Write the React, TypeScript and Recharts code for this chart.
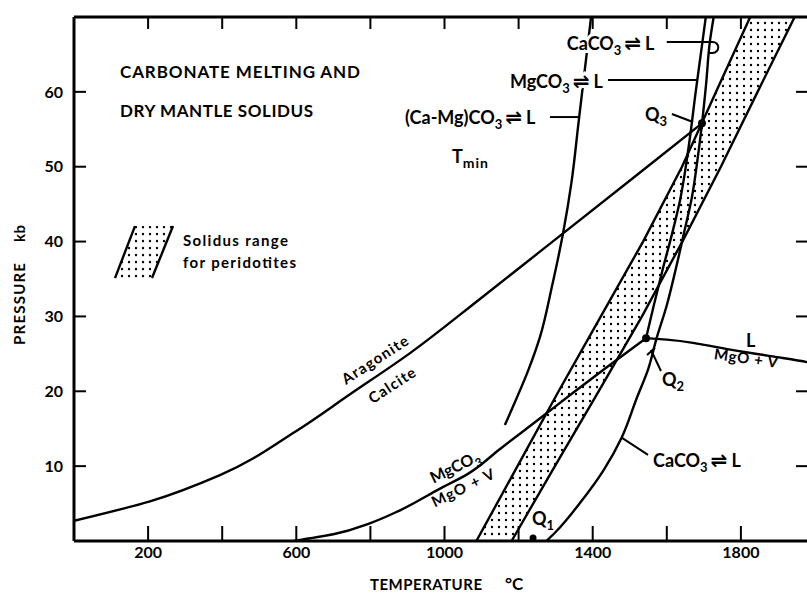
import React from 'react'
import { ComposedChart, Area, Line, XAxis, YAxis, ReferenceDot } from 'recharts'

// values: T in °C, P in kb

const tempTicks = [200, 400, 600, 800, 1000, 1200, 1400, 1600, 1800]
const tempLabels = [200, 600, 1000, 1400, 1800]
const pressureTicks = [10, 20, 30, 40, 50, 60]

// solidus range for peridotites: left / right edge at each pressure
const solidusBand = [
  { P: 0, low: 1086, high: 1181 },
  { P: 10, low: 1197, high: 1298 },
  { P: 20, low: 1308, high: 1416 },
  { P: 30, low: 1422, high: 1533 },
  { P: 40, low: 1536, high: 1642 },
  { P: 50, low: 1641, high: 1746 },
  { P: 60, low: 1733, high: 1845 },
  { P: 71.4, low: 1838, high: 1959 },
]

const aragoniteCalcite = [
  { T: 0, P: 2.7 }, { T: 205, P: 5.3 }, { T: 394, P: 8.8 }, { T: 597, P: 14.6 },
  { T: 745, P: 19.6 }, { T: 907, P: 25.1 }, { T: 1100, P: 32.5 }, { T: 1320, P: 41.1 },
  { T: 1509, P: 48.5 }, { T: 1695, P: 55.8 },
]

const magnesiteDecarb = [
  { T: 592, P: 0 }, { T: 700, P: 0.9 }, { T: 800, P: 2.4 }, { T: 880, P: 4.1 },
  { T: 988, P: 7.0 }, { T: 1061, P: 8.9 }, { T: 1150, P: 12.3 }, { T: 1266, P: 16.7 },
  { T: 1347, P: 19.8 }, { T: 1438, P: 23.2 }, { T: 1544, P: 27.1 },
]

const liquidPericlase = [
  { T: 2000, P: 23.6 }, { T: 1978, P: 23.9 }, { T: 1880, P: 24.7 }, { T: 1779, P: 25.5 },
  { T: 1690, P: 26.3 }, { T: 1600, P: 26.9 }, { T: 1544, P: 27.1 },
]

const calciteMelting = [
  { T: 1275, P: 0 }, { T: 1300, P: 1.2 }, { T: 1366, P: 5.1 }, { T: 1430, P: 9.5 },
  { T: 1479, P: 13.9 }, { T: 1519, P: 19.1 }, { T: 1550, P: 23 }, { T: 1572, P: 27 },
  { T: 1600, P: 31.5 }, { T: 1625, P: 36.5 }, { T: 1648, P: 41.5 }, { T: 1668, P: 46 },
  { T: 1683, P: 51 }, { T: 1695, P: 55.8 }, { T: 1706, P: 61 }, { T: 1716, P: 66.6 },
  { T: 1730, P: 71 },
]

const magnesiteMelting = [
  { T: 1544, P: 27.1 }, { T: 1565, P: 31.5 }, { T: 1590, P: 36.5 }, { T: 1614, P: 41 },
  { T: 1636, P: 45.6 }, { T: 1660, P: 53 }, { T: 1678, P: 60 }, { T: 1693, P: 65.5 },
  { T: 1708, P: 71 },
]

const dolomiteMinimum = [
  { T: 1163, P: 15.5 }, { T: 1194, P: 19 }, { T: 1226, P: 22.8 }, { T: 1258, P: 27.3 },
  { T: 1290, P: 34 }, { T: 1320, P: 41.1 }, { T: 1343, P: 48 }, { T: 1362, P: 56 },
  { T: 1380, P: 63.5 }, { T: 1398, P: 71 },
]

const invariantPoints = [
  { name: 'Q1', T: 1239, P: 0.4 },
  { name: 'Q2', T: 1544, P: 27.1 },
  { name: 'Q3', T: 1695, P: 55.8 },
]

const FONT = "Lato, 'DejaVu Sans', sans-serif"
const txt = { fontFamily: FONT, fontSize: 16, fontWeight: 700, fill: '#000' }
const big = { ...txt, fontSize: 18 }
const halo = { ...big, stroke: '#fff', strokeWidth: 6, paintOrder: 'stroke' } as any

const note = (key: string, T: number, P: number, node: React.ReactNode) => (
  <ReferenceDot
    key={key}
    x={T}
    y={P}
    r={1}
    ifOverflow="visible"
    shape={(p: any) => <g transform={`translate(${p.cx},${p.cy})`}>{node}</g>}
  />
)

const sub = (s: string, size = 13) => (
  <tspan dy={5} fontSize={size}>{s}</tspan>
)

// "⇌ L" after a subscript
const toLiquid = () => (
  <tspan dy={-5}>
    <tspan dx={3} fontFamily="'DejaVu Sans'" fontSize={20}>{'\u21CC'}</tspan>
    <tspan dx={4}>L</tspan>
  </tspan>
)

const lineProps = {
  type: 'monotone' as const,
  dataKey: 'T',
  stroke: '#000',
  strokeWidth: 2.4,
  dot: false,
  activeDot: false,
  isAnimationActive: false,
}

export default function App() {
  return (
    <div style={{ position: 'fixed', left: 0, top: 0, width: 807, height: 593, overflow: 'hidden', background: '#fff' }}>
      <ComposedChart
        width={840}
        height={593}
        layout="vertical"
        data={solidusBand}
        margin={{ top: 0, right: 0, bottom: 0, left: 0 }}
      >
        <defs>
          <pattern id="dots" width="7" height="7" patternUnits="userSpaceOnUse">
            <circle cx="2" cy="2" r="1.2" fill="#000" />
          </pattern>
        </defs>
        <XAxis
          xAxisId={0}
          type="number"
          domain={[0, 2000]}
          allowDataOverflow
          ticks={tempTicks}
          interval={0}
          tickFormatter={(v: number) => (tempLabels.includes(v) ? String(v) : '')}
          tickSize={-15}
          tickMargin={21}
          height={52}
          axisLine={{ stroke: '#000', strokeWidth: 3 }}
          tickLine={{ stroke: '#000', strokeWidth: 2 }}
          tick={txt}
          label={{
            content: ({ viewBox }: any) => (
              <g>
                <text x={viewBox.x + 296} y={viewBox.y + 49} {...txt} fontSize={15} textLength={112}>TEMPERATURE</text>
                <text x={viewBox.x + 431} y={viewBox.y + 49} {...txt} fontSize={17}>°C</text>
              </g>
            ),
          }}
        />
        <XAxis
          xAxisId="top"
          orientation="top"
          type="number"
          domain={[0, 2000]}
          allowDataOverflow
          ticks={tempTicks}
          interval={0}
          tickFormatter={() => ''}
          tickSize={-12}
          height={17}
          axisLine={{ stroke: '#000', strokeWidth: 3 }}
          tickLine={{ stroke: '#000', strokeWidth: 2 }}
        />
        <YAxis
          yAxisId={0}
          type="number"
          dataKey="P"
          domain={[0, 70]}
          allowDataOverflow
          reversed
          ticks={pressureTicks}
          interval={0}
          tickSize={-12}
          tickMargin={23}
          width={74}
          axisLine={{ stroke: '#000', strokeWidth: 3 }}
          tickLine={{ stroke: '#000', strokeWidth: 2 }}
          tick={txt}
          label={{
            content: ({ viewBox }: any) => (
              <g transform={`translate(${viewBox.x + 25},${viewBox.y + 328}) rotate(-90)`}>
                <text x={0} y={0} {...txt} fontSize={15} textLength={82}>PRESSURE</text>
                <text x={103} y={0} {...txt} fontSize={15} textLength={17}>kb</text>
              </g>
            ),
          }}
        />
        <YAxis
          yAxisId="right"
          orientation="right"
          type="number"
          dataKey="P"
          domain={[0, 70]}
          allowDataOverflow
          reversed
          ticks={pressureTicks}
          interval={0}
          tickSize={-19}
          tickFormatter={() => ''}
          width={25}
          axisLine={{ stroke: '#000', strokeWidth: 3 }}
          tickLine={{ stroke: '#000', strokeWidth: 2 }}
        />

        <Area
          type="linear"
          dataKey={(d: any) => [d.low, d.high]}
          stroke="#000"
          strokeWidth={2.4}
          fill="url(#dots)"
          fillOpacity={1}
          dot={false}
          activeDot={false}
          isAnimationActive={false}
        />

        <Line data={aragoniteCalcite} {...lineProps} />
        <Line data={magnesiteDecarb} {...lineProps} />
        <Line data={liquidPericlase} {...lineProps} />
        <Line data={calciteMelting} {...lineProps} />
        <Line data={magnesiteMelting} {...lineProps} />
        <Line data={dolomiteMinimum} {...lineProps} />

        {invariantPoints.map((q) => (
          <ReferenceDot key={q.name} x={q.T} y={q.P} r={q.name === 'Q1' ? 3.5 : 4} fill="#000" stroke="none" ifOverflow="visible" />
        ))}

        {note('t1', 124.2, 61.85, <text {...txt} fontSize={17} textLength={240}>CARBONATE MELTING AND</text>)}
        {note('t2', 124.2, 56.6, <text {...txt} fontSize={17} textLength={193}>DRY MANTLE SOLIDUS</text>)}
        {note('legend', 294.2, 39.4, (
          <g>
            <polygon points="-68,32 -48,-20 -10,-20 -31,32" fill="url(#dots)" stroke="none" />
            <line x1={-68} y1={32} x2={-48} y2={-20} stroke="#000" strokeWidth={2.4} />
            <line x1={-31} y1={32} x2={-10} y2={-20} stroke="#000" strokeWidth={2.4} />
            <text {...txt} fontSize={15} textLength={105}>Solidus range</text>
            <text y={22} {...txt} fontSize={15} textLength={113}>for peridotites</text>
          </g>
        ))}
        {note('caco3-top', 1330, 65.6, (
          <g>
            <text {...halo}>CaCO{sub('3')}{toLiquid()}</text>
            <path d="M100,-8 H146 A5.5,5.5 0 0 1 146,3 H142" fill="none" stroke="#000" strokeWidth={2} />
          </g>
        ))}
        {note('mgco3-top', 1176.8, 60.5, (
          <g>
            <text {...halo}>MgCO{sub('3')}{toLiquid()}</text>
            <line x1={98} y1={-8} x2={187} y2={-8} stroke="#000" strokeWidth={2} />
          </g>
        ))}
        {note('dolo', 893.4, 55.7, (
          <g>
            <text {...big}>(Ca-Mg)CO{sub('3')}{toLiquid()}</text>
            <line x1={145} y1={-7} x2={175} y2={-7} stroke="#000" strokeWidth={2} />
          </g>
        ))}
        {note('tmin', 1020, 50.5, <text {...big}>T<tspan dy={5} fontSize={14} letterSpacing={1}>min</tspan></text>)}
        {note('q3', 1541, 56.1, (
          <g>
            <text {...big}>Q{sub('3')}</text>
            <line x1={27} y1={-7} x2={48} y2={1} stroke="#000" strokeWidth={2} />
          </g>
        ))}
        {note('arag', 812.4, 24.2, (
          <text {...txt} fontSize={15} transform="rotate(-33)" textAnchor="middle" dy="0.35em" textLength={76}>Aragonite</text>
        ))}
        {note('calc', 858.3, 20.8, (
          <text {...txt} fontSize={15} transform="rotate(-33)" textAnchor="middle" dy="0.35em" textLength={53}>Calcite</text>
        ))}
        {note('mgco3-low', 1028.3, 9.9, (
          <text {...txt} fontSize={16} transform="rotate(-26)" textAnchor="middle" dy="0.35em">MgCO{sub('3', 12)}</text>
        ))}
        {note('mgov-low', 1050, 7.1, (
          <text {...txt} fontSize={15} transform="rotate(-26)" textAnchor="middle" dy="0.35em" textLength={68}>MgO + V</text>
        ))}
        {note('q1', 1236, 2.1, <text {...big}>Q{sub('1')}</text>)}
        {note('q2', 1587, 20.7, (
          <g>
            <text {...big}>Q{sub('2')}</text>
            <line x1={-11} y1={-36} x2={-1} y2={-15} stroke="#000" strokeWidth={2} />
            <line x1={-15} y1={-31} x2={-7} y2={-38} stroke="#000" strokeWidth={2} />
          </g>
        ))}
        {note('caco3-low', 1562.8, 9.9, (
          <g>
            <text {...big}>CaCO{sub('3')}{toLiquid()}</text>
            <line x1={-31} y1={-29} x2={-5} y2={-12} stroke="#000" strokeWidth={2} />
          </g>
        ))}
        {note('liq', 1813.8, 25.9, <text {...big}>L</text>)}
        {note('mgov-right', 1813.8, 24.4, (
          <text {...txt} fontSize={15} transform="rotate(8)" textAnchor="middle" dy="0.35em" textLength={64}>MgO + V</text>
        ))}
      </ComposedChart>
    </div>
  )
}
